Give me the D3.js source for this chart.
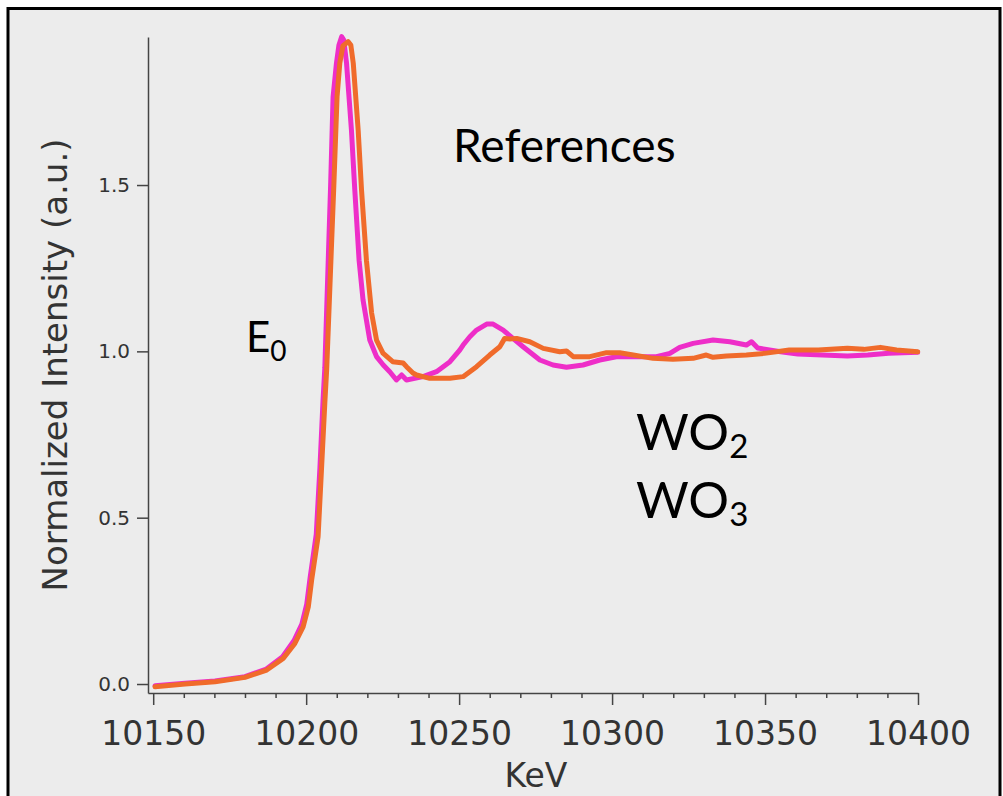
<!DOCTYPE html>
<html>
<head>
<meta charset="utf-8">
<script src="https://cdn.jsdelivr.net/npm/d3@7"></script>
<style>
  html, body { margin: 0; padding: 0; background: #ffffff; }
  svg { display: block; }
</style>
</head>
<body>
<svg id="chart" width="1003" height="796"></svg>
<script>
// W L3-edge XANES of the tungsten oxide references (normalized)
const wo2Energy = [10150.6, 10160.4, 10170.2, 10180.0, 10187.0, 10192.3, 10196.0, 10198.6, 10200.2, 10201.3,
  10203.3, 10204.5, 10205.5, 10206.1, 10208.0, 10208.8, 10209.9, 10210.7, 10211.6, 10212.3,
  10213.2, 10214.8, 10215.9, 10217.3, 10218.6, 10220.8, 10223.0, 10225.2, 10227.4, 10229.5,
  10231.2, 10232.8, 10238.2, 10242.6, 10247.0, 10250.2, 10251.3, 10253.5, 10255.7, 10259.0,
  10261.1, 10264.4, 10267.6, 10270.9, 10276.4, 10280.7, 10285.1, 10290.5, 10296.0, 10301.4,
  10309.0, 10314.5, 10318.9, 10322.1, 10326.5, 10333.0, 10338.5, 10343.9, 10345.6, 10347.6,
  10355.1, 10360.7, 10376.9, 10383.6, 10390.4, 10399.9];
const wo2Intensity = [-0.005, 0.002, 0.009, 0.022, 0.045, 0.082, 0.130, 0.180, 0.240, 0.320,
  0.450, 0.650, 0.850, 0.950, 1.500, 1.765, 1.866, 1.920, 1.946, 1.936,
  1.866, 1.665, 1.485, 1.274, 1.154, 1.034, 0.984, 0.959, 0.938, 0.914,
  0.929, 0.914, 0.924, 0.939, 0.969, 1.004, 1.019, 1.044, 1.064, 1.082,
  1.082, 1.064, 1.039, 1.014, 0.974, 0.959, 0.952, 0.959, 0.974, 0.984,
  0.984, 0.984, 0.994, 1.012, 1.024, 1.034, 1.029, 1.019, 1.029, 1.010,
  0.999, 0.992, 0.986, 0.989, 0.994, 0.997];

const wo3Energy = [10150.6, 10160.4, 10170.2, 10180.0, 10187.1, 10192.5, 10196.3, 10199.0, 10200.7, 10201.8,
  10203.9, 10205.0, 10206.1, 10206.7, 10209.05, 10210.1, 10211.0, 10212.0, 10213.7, 10214.6,
  10215.4, 10217.0, 10218.1, 10219.7, 10221.4, 10223.0, 10225.1, 10228.3, 10231.7, 10232.8,
  10234.9, 10236.1, 10240.4, 10247.0, 10251.3, 10255.7, 10260.0, 10263.3, 10264.9, 10266.6,
  10268.8, 10273.1, 10277.5, 10282.9, 10285.1, 10287.3, 10292.7, 10298.2, 10302.5, 10306.9,
  10313.4, 10319.9, 10326.5, 10330.8, 10333.0, 10337.4, 10343.9, 10349.8, 10357.9, 10367.4,
  10376.9, 10382.3, 10387.7, 10393.0, 10399.9];
const wo3Intensity = [-0.008, 0.000, 0.007, 0.020, 0.042, 0.077, 0.122, 0.172, 0.232, 0.313,
  0.443, 0.643, 0.845, 0.944, 1.500, 1.765, 1.867, 1.918, 1.931, 1.921,
  1.866, 1.665, 1.485, 1.274, 1.115, 1.034, 0.995, 0.969, 0.965, 0.954,
  0.935, 0.929, 0.919, 0.919, 0.924, 0.954, 0.989, 1.014, 1.039, 1.037,
  1.039, 1.029, 1.009, 0.999, 1.001, 0.984, 0.984, 0.996, 0.996, 0.989,
  0.979, 0.976, 0.979, 0.989, 0.982, 0.986, 0.989, 0.994, 1.004, 1.004,
  1.009, 1.006, 1.012, 1.004, 0.999];

const xMajorTicks = [10150, 10200, 10250, 10300, 10350, 10400];
const yTicks = [0.0, 0.5, 1.0, 1.5];

const svg = d3.select("#chart");

// panel background and frame
svg.append("rect")
  .attr("x", 8).attr("y", 8.5).attr("width", 992).attr("height", 800)
  .attr("fill", "#ececec").attr("stroke", "#000").attr("stroke-width", 3);

const x = d3.scaleLinear().domain([10148.3, 10400]).range([148, 918]);
const y = d3.scaleLinear().domain([-0.027, 1.945]).range([693, 37]);

const axisColor = "#444";

// minor x ticks every 10 eV
const minorTicks = d3.range(10150, 10401, 10).filter(v => v % 50 !== 0);
svg.append("g")
  .attr("transform", "translate(0,693)")
  .call(d3.axisBottom(x).tickValues(minorTicks).tickSize(5).tickSizeOuter(0).tickFormat(""))
  .call(g => g.select(".domain").remove())
  .call(g => g.selectAll("line").attr("stroke", axisColor).attr("stroke-width", 1.5));

// major x axis
svg.append("g")
  .attr("transform", "translate(0,693)")
  .call(d3.axisBottom(x).tickValues(xMajorTicks).tickSize(12).tickSizeOuter(0).tickPadding(17).tickFormat(d3.format("d")))
  .call(g => g.select(".domain").attr("stroke", axisColor).attr("stroke-width", 1.5))
  .call(g => g.selectAll("line").attr("stroke", axisColor).attr("stroke-width", 1.5))
  .call(g => g.selectAll("text")
    .attr("fill", "#333")
    .style("font-family", "'DejaVu Sans', sans-serif")
    .style("font-size", "33px"));

// y axis
svg.append("g")
  .attr("transform", "translate(148,0)")
  .call(d3.axisLeft(y).tickValues(yTicks).tickSize(11).tickSizeOuter(0).tickPadding(7).tickFormat(d3.format(".1f")))
  .call(g => g.select(".domain").attr("stroke", axisColor).attr("stroke-width", 1.5))
  .call(g => g.selectAll("line").attr("stroke", axisColor).attr("stroke-width", 1.5))
  .call(g => g.selectAll("text")
    .attr("fill", "#333")
    .style("font-family", "'DejaVu Sans', sans-serif")
    .style("font-size", "20px"));

// axis titles
svg.append("text")
  .attr("x", 536).attr("y", 787)
  .attr("text-anchor", "middle")
  .attr("fill", "#333")
  .style("font-family", "'DejaVu Sans', sans-serif")
  .style("font-size", "33px")
  .text("KeV");

svg.append("text")
  .attr("transform", "translate(67,365) rotate(-90)")
  .attr("text-anchor", "middle")
  .attr("fill", "#333")
  .style("font-family", "'DejaVu Sans', sans-serif")
  .style("font-size", "34px")
  .text("Normalized Intensity (a.u.)");

// spectra
const line = d3.line().x(d => x(d[0])).y(d => y(d[1]));
const series = [
  { name: "WO2", energy: wo2Energy, values: wo2Intensity, color: "#ee2ec8" },
  { name: "WO3", energy: wo3Energy, values: wo3Intensity, color: "#f06b2b" }
];
svg.append("g").selectAll("path")
  .data(series)
  .join("path")
  .attr("d", s => line(s.energy.map((e, i) => [e, s.values[i]])))
  .attr("fill", "none")
  .attr("stroke", s => s.color)
  .attr("stroke-width", 5)
  .attr("stroke-linejoin", "round")
  .attr("stroke-linecap", "round");

// annotations
const annoFont = "Lato, 'Open Sans', sans-serif";
svg.append("text")
  .attr("x", 453).attr("y", 162)
  .attr("fill", "#000")
  .style("font-family", annoFont)
  .style("font-size", "46px")
  .text("References");

function subText(xp, yp, main, sub, size, subSize, drop) {
  const t = svg.append("text")
    .attr("x", xp).attr("y", yp)
    .attr("fill", "#000")
    .style("font-family", annoFont)
    .style("font-size", size + "px");
  t.append("tspan").text(main);
  t.append("tspan").attr("dy", drop).style("font-size", subSize + "px").text(sub);
}
subText(246, 352, "E", "0", 42, 28, 9);
subText(636, 450, "WO", "2", 51, 33, 8);
subText(636, 518, "WO", "3", 51, 33, 8);
</script>
</body>
</html>
